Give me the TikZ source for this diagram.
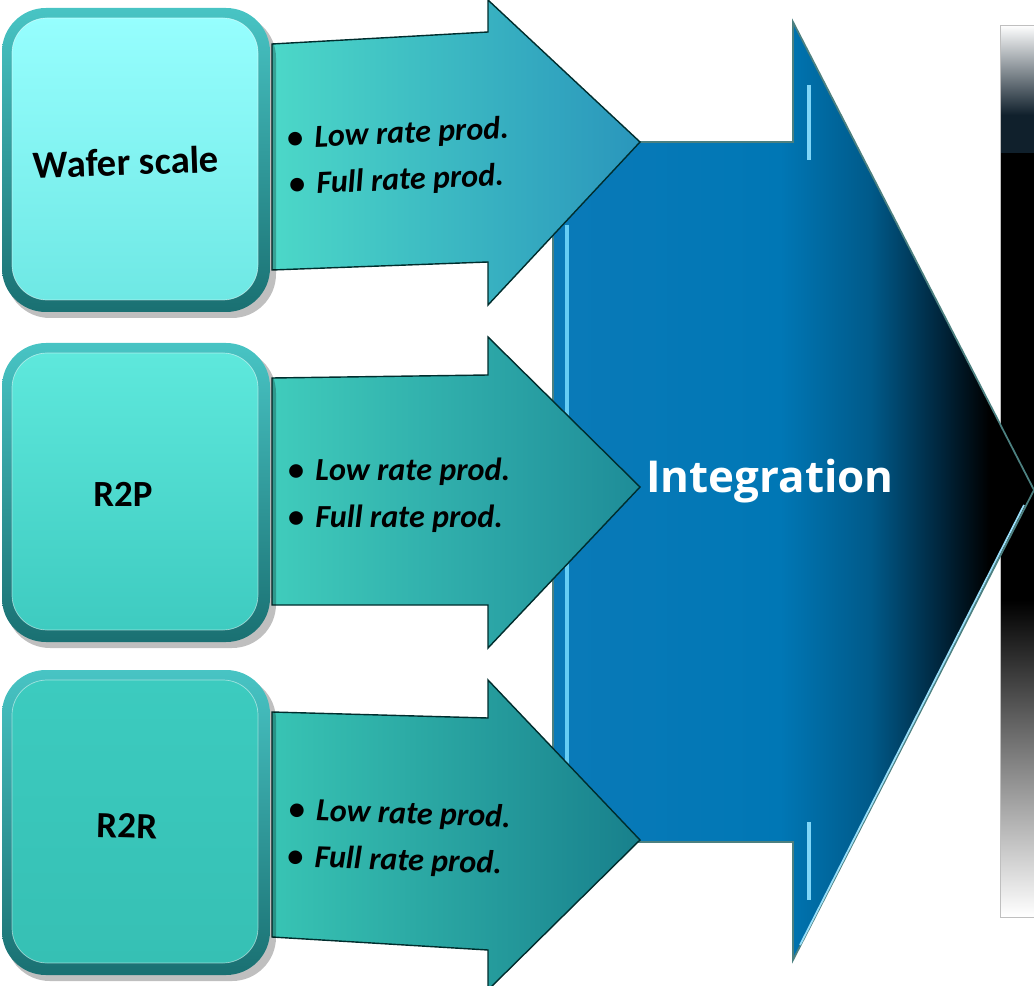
\documentclass[tikz,border=0pt]{standalone}
\usepackage{fontspec}
\setmainfont{Carlito}
\newfontfamily\integfont{Open Sans}

\definecolor{barnavy}{HTML}{10202C}
\definecolor{intA}{HTML}{0A7AB8}
\definecolor{intB}{HTML}{0077B5}
\definecolor{intC}{HTML}{005A8A}
\definecolor{intD}{HTML}{00263D}
\definecolor{rimdark}{HTML}{1A7072}
\definecolor{rimlight}{HTML}{48C4C4}

\pgfdeclarehorizontalshading{integshade}{100bp}{color(0bp)=(intA); color(25bp)=(intA);
  color(48.6bp)=(intB); color(58bp)=(intC); color(65.2bp)=(intD); color(70.4bp)=(black);
  color(100bp)=(black)}

\begin{document}
\begin{tikzpicture}[x=0.02cm, y=-0.02cm,
    rim/.style={top color=rimlight, bottom color=rimdark, rounded corners=25pt},
    feedarrow/.style={draw=teal!35!black, line width=0.8pt},
    boxtext/.style={font=\fontsize{21}{25}\selectfont\bfseries, text=black},
    bullettext/.style={font=\fontsize{18.3}{26.5}\selectfont\bfseries\itshape, align=left, anchor=west, text=black}]
  \useasboundingbox (0,0) rectangle (1034,986);

  % Black bar
  \shade[top color=white, bottom color=barnavy] (1000,25) rectangle (1034,115);
  \fill[barnavy] (1000,115) rectangle (1034,153);
  \fill[black] (1000,153) rectangle (1034,600);
  \shade[top color=black, bottom color=white] (1000,600) rectangle (1034,917);
  \draw[gray!50] (1034,25) -- (1000,25) -- (1000,917) -- (1034,917);

  % Integration arrow
  \shadedraw[shading=integshade, draw=gray!60!teal, line width=1pt]
    (553,142) -- (793,142) -- (793,22) -- (1034,490) -- (793,960) -- (793,842) -- (553,842) -- cycle;
  \draw[cyan!60!white, line width=2pt] (567,225) -- (567,820);
  \draw[cyan!50!white, line width=2pt] (809,85) -- (809,160);
  \draw[cyan!50!white, line width=2pt] (809,822) -- (809,900);
  \draw[cyan!40!white, line width=1pt] (800,945) -- (1024,505);
  \node[text=white, font=\integfont\fontsize{25}{30}\selectfont\bfseries] (integ) at (770,481) {Integration};

  % Feed arrows
  \shadedraw[feedarrow, left color={rgb,255:red,76;green,216;blue,200}, right color={rgb,255:red,42;green,150;blue,188}]
    (272,44) -- (488,32) -- (488,0) -- (640,142) -- (488,305) -- (488,262) -- (272,270) -- cycle;
  \shadedraw[feedarrow, left color={rgb,255:red,64;green,204;blue,188}, right color={rgb,255:red,30;green,140;blue,152}]
    (272,378) -- (488,375) -- (488,337) -- (640,487) -- (488,648) -- (488,605) -- (272,605) -- cycle;
  \shadedraw[feedarrow, left color={rgb,255:red,56;green,196;blue,180}, right color={rgb,255:red,24;green,128;blue,140}]
    (272,712) -- (488,718) -- (488,680) -- (640,840) -- (488,990) -- (488,950) -- (272,937) -- cycle;
  \node[bullettext, rotate=2.5] (lista) at (282,163) {{\upshape\textbullet}\hspace{0.35em}Low rate prod.\\{\upshape\textbullet}\hspace{0.35em}Full rate prod.};
  \node[bullettext] (listb) at (282,495) {{\upshape\textbullet}\hspace{0.35em}Low rate prod.\\{\upshape\textbullet}\hspace{0.35em}Full rate prod.};
  \node[bullettext, rotate=-2] (listc) at (282,834) {{\upshape\textbullet}\hspace{0.35em}Low rate prod.\\{\upshape\textbullet}\hspace{0.35em}Full rate prod.};

  % Process boxes
  \fill[black, opacity=0.25, rounded corners=25pt] (6,14) rectangle (276,318);
  \shade[rim] (2,8) rectangle (270,312);
  \shade[top color={rgb,255:red,150;green,254;blue,254}, bottom color={rgb,255:red,110;green,232;blue,228}, rounded corners=20pt] (12,18) rectangle (258,300);
  \draw[white, opacity=0.5, rounded corners=20pt] (12,18) rectangle (258,300);
  \node[boxtext, font=\fontsize{22}{26}\selectfont\bfseries, rotate=2] (wafer) at (126,162) {Wafer scale};

  \fill[black, opacity=0.25, rounded corners=25pt] (6,349) rectangle (276,648);
  \shade[rim] (2,343) rectangle (270,642);
  \shade[top color={rgb,255:red,94;green,232;blue,220}, bottom color={rgb,255:red,62;green,203;blue,192}, rounded corners=20pt] (12,353) rectangle (258,630);
  \draw[white, opacity=0.5, rounded corners=20pt] (12,353) rectangle (258,630);
  \node[boxtext] (r2p) at (123,494) {R2P};

  \fill[black, opacity=0.25, rounded corners=25pt] (6,676) rectangle (276,981);
  \shade[rim] (2,670) rectangle (270,975);
  \shade[top color={rgb,255:red,60;green,203;blue,191}, bottom color={rgb,255:red,54;green,192;blue,180}, rounded corners=20pt] (12,680) rectangle (258,963);
  \draw[white, opacity=0.5, rounded corners=20pt] (12,680) rectangle (258,963);
  \node[boxtext, rotate=-1.5] (r2r) at (127,826) {R2R};
\end{tikzpicture}
\end{document}
